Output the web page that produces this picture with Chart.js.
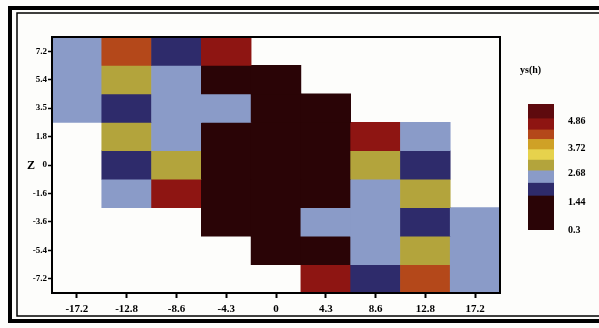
<!DOCTYPE html>
<html>
<head>
<meta charset="utf-8">
<script src="https://cdn.jsdelivr.net/npm/chart.js@4/dist/chart.umd.min.js"></script>
<style>
  html, body { margin: 0; padding: 0; background: #fdfdfb; }
  #wrap { position: relative; width: 599px; height: 328px; }
  #heat { position: absolute; left: 0; top: 0; }
  #bar { position: absolute; left: 520px; top: 0; }
</style>
</head>
<body>
<div id="wrap">
  <canvas id="heat" width="599" height="328"></canvas>
  <canvas id="bar" width="80" height="328"></canvas>
</div>
<script>
// x categories and z (row) labels
var xLabels = ['-17.2', '-12.8', '-8.6', '-4.3', '0', '4.3', '8.6', '12.8', '17.2'];
var zLabels = ['7.2', '5.4', '3.5', '1.8', '0', '-1.6', '-3.6', '-5.4', '-7.2'];

// ys(h) per row, top row first (null = no data)
var row72  = [2.5, 4.3, 1.9, 4.8, null, null, null, null, null];
var row54  = [2.5, 3.0, 2.5, 0.8, 0.8, null, null, null, null];
var row35  = [2.5, 1.9, 2.5, 2.5, 0.8, 0.8, null, null, null];
var row18  = [null, 3.0, 2.5, 0.8, 0.8, 0.8, 4.8, 2.5, null];
var row0   = [null, 1.9, 3.0, 0.8, 0.8, 0.8, 3.0, 1.9, null];
var rowM16 = [null, 2.5, 4.8, 0.8, 0.8, 0.8, 2.5, 3.0, null];
var rowM36 = [null, null, null, 0.8, 0.8, 2.5, 2.5, 1.9, 2.5];
var rowM54 = [null, null, null, null, 0.8, 0.8, 2.5, 3.0, 2.5];
var rowM72 = [null, null, null, null, null, 4.8, 1.9, 4.3, 2.5];
var ysRows = [row72, row54, row35, row18, row0, rowM16, rowM36, rowM54, rowM72];

// colour scale
var levelBounds = [0.3, 1.73, 2.27, 2.79, 3.24, 3.68, 4.11, 4.51, 4.98, 5.6];
var levelColors = ['#2a0406', '#2e2b6b', '#8a9bc8', '#b3a43c', '#e6d24c', '#cfa126', '#b4481a', '#8e1512', '#5e0a0e'];
var cbTicks = [4.86, 3.72, 2.68, 1.44, 0.3];

function colorFor(v) {
	if (v == null) return 'rgba(0,0,0,0)';
	for (var i = 0; i < levelColors.length; i++) {
		if (v < levelBounds[i + 1]) return levelColors[i];
	}
	return levelColors[levelColors.length - 1];
}

var serif = "'Liberation Serif', 'DejaVu Serif', serif";

var heatDatasets = ysRows.map(function(row, r) {
	return {
		data: row.map(function(v) { return v == null ? null : [8 - r, 9 - r]; }),
		backgroundColor: row.map(colorFor),
		borderWidth: 0,
		barPercentage: 1,
		categoryPercentage: 1,
		grouped: false
	};
});

var framePlugin = {
	id: 'frame',
	beforeDraw: function(chart) {
		var c = chart.ctx;
		c.save();
		c.fillStyle = '#fdfdfb';
		c.fillRect(0, 0, chart.width, chart.height);
		c.restore();
	},
	afterDraw: function(chart) {
		var c = chart.ctx, a = chart.chartArea;
		c.save();
		c.strokeStyle = '#000';
		// outer frame
		c.lineWidth = 4;
		c.strokeRect(10, 8, 620, 313);
		c.lineWidth = 1.5;
		c.strokeRect(17, 13, 620, 303);
		// plot box
		c.lineWidth = 2;
		c.strokeRect(a.left, a.top, a.right - a.left, a.bottom - a.top);
		c.fillStyle = '#000';
		c.font = 'bold 12px ' + serif;
		c.textBaseline = 'middle';
		c.fillText('Z', 27, 166);
		c.font = 'bold 10px ' + serif;
		c.fillText('ys(h)', 520, 70);
		c.restore();
	}
};

new Chart(document.getElementById('heat').getContext('2d'), {
	type: 'bar',
	data: { labels: xLabels, datasets: heatDatasets },
	options: {
		responsive: false,
		animation: false,
		layout: { padding: { left: 0, top: 37, right: 99, bottom: 0 } },
		plugins: { legend: { display: false }, tooltip: { enabled: false } },
		scales: {
			x: {
				offset: true,
				grid: { display: true, drawOnChartArea: false, offset: false, tickLength: 5, tickWidth: 2, tickColor: '#000' },
				border: { display: true, width: 2, color: '#000' },
				ticks: { color: '#000', font: { family: serif, size: 11, weight: 'bold' }, padding: 5 },
				afterFit: function(s) { s.height = 35; }
			},
			y: {
				min: 0,
				max: 9,
				afterBuildTicks: function(s) {
					s.ticks = zLabels.map(function(_, i) { return { value: 8.5 - i }; });
				},
				grid: { display: true, drawOnChartArea: false, tickLength: 4, tickWidth: 1.5, tickColor: '#000' },
				border: { display: true, width: 2, color: '#000' },
				ticks: {
					color: '#000',
					font: { family: serif, size: 9, weight: 'bold' },
					padding: 1,
					callback: function(v) { return zLabels[Math.round(8.5 - v)]; }
				},
				afterFit: function(s) { s.width = 52; }
			}
		}
	},
	plugins: [framePlugin]
});

// colour bar
var cbDatasets = levelColors.map(function(col, i) {
	return {
		data: [[levelBounds[i], levelBounds[i + 1]]],
		backgroundColor: col,
		borderWidth: 0,
		barPercentage: 1,
		categoryPercentage: 1,
		grouped: false
	};
});

new Chart(document.getElementById('bar').getContext('2d'), {
	type: 'bar',
	data: { labels: ['ys'], datasets: cbDatasets },
	options: {
		responsive: false,
		animation: false,
		layout: { padding: { left: 8, top: 104, right: 0, bottom: 98 } },
		plugins: { legend: { display: false }, tooltip: { enabled: false } },
		scales: {
			x: { display: false },
			y: {
				position: 'right',
				min: 0.3,
				max: 5.6,
				afterBuildTicks: function(s) {
					s.ticks = cbTicks.map(function(v) { return { value: v }; });
				},
				grid: { display: false },
				border: { display: false },
				ticks: {
					color: '#000',
					font: { family: serif, size: 10, weight: 'bold' },
					padding: 6,
					callback: function(v) { return v; }
				},
				afterFit: function(s) { s.width = 46; }
			}
		}
	}
});
</script>
</body>
</html>
